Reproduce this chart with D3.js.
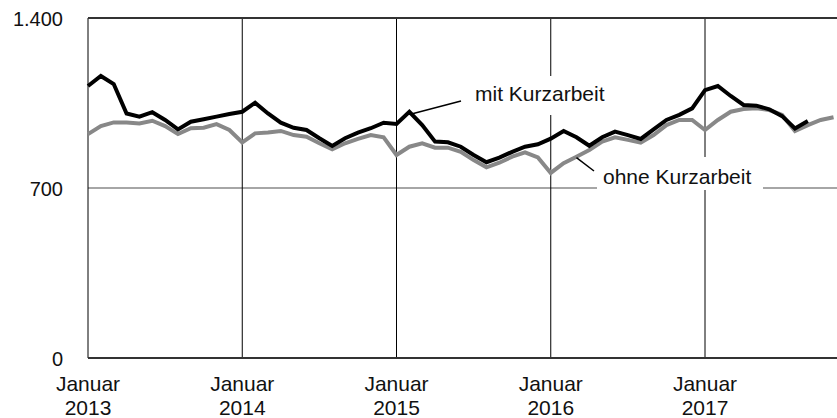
<!DOCTYPE html>
<html>
<head>
<meta charset="utf-8">
<script src="https://cdn.jsdelivr.net/npm/d3@7"></script>
<style>
  html, body { margin: 0; padding: 0; background: #fff; }
  svg { display: block; font-family: "Liberation Sans", Arial, sans-serif; }
</style>
</head>
<body>
<svg id="chart" width="837" height="418"></svg>
<script>
// Monthly values, starting January 2013
const mitKurzarbeit = [
  1120, 1161, 1128, 1007, 994, 1012, 980, 941, 973, 983, 994, 1005,
  1014, 1051, 1007, 969, 948, 939, 905, 873, 905, 928, 946, 969,
  964, 1014, 959, 891, 888, 870, 836, 806, 825, 849, 870, 880,
  903, 935, 909, 874, 909, 932, 918, 902, 941, 980, 1001, 1028,
  1103, 1120, 1079, 1042, 1039, 1024, 996, 945, 976
];
const ohneKurzarbeit = [
  922, 955, 970, 970, 966, 977, 955, 922, 946, 948, 963, 939,
  888, 925, 929, 935, 918, 911, 884, 859, 884, 902, 918, 909,
  836, 870, 884, 866, 866, 849, 815, 785, 804, 829, 847, 826,
  762, 802, 829, 856, 891, 909, 898, 887, 918, 959, 980, 980,
  939, 980, 1014, 1025, 1028, 1021, 1001, 935, 959, 980, 991
];
const yearTicks = [2013, 2014, 2015, 2016, 2017];
const yTicks = [0, 700, 1400];
const monthLabel = "Januar";

(function draw() {
  const svg = d3.select("#chart");
  const W = 837;
  const plotLeft = 88, plotTop = 18, plotBottom = 358;

  // month index -> x, 12 months per year
  const x = d3.scaleLinear().domain([0, 48]).range([88, 705]);
  const y = d3.scaleLinear().domain([0, 1400]).range([plotBottom, plotTop]);

  const de = d3.formatLocale({ decimal: ",", thousands: ".", grouping: [3], currency: ["", " €"] });
  const fmt = de.format(",d");

  // horizontal reference line at 700
  svg.append("line")
    .attr("x1", plotLeft).attr("x2", W)
    .attr("y1", y(700)).attr("y2", y(700))
    .attr("stroke", "#888").attr("stroke-width", 1.6);

  // yearly vertical grid lines
  svg.append("g").selectAll("line")
    .data(yearTicks.slice(1))
    .join("line")
    .attr("x1", d => x((d - 2013) * 12)).attr("x2", d => x((d - 2013) * 12))
    .attr("y1", plotTop).attr("y2", plotBottom)
    .attr("stroke", "#000").attr("stroke-width", 1);

  // frame: left, top, bottom
  svg.append("line").attr("x1", plotLeft).attr("x2", plotLeft).attr("y1", plotTop).attr("y2", plotBottom)
    .attr("stroke", "#000").attr("stroke-width", 1);
  svg.append("line").attr("x1", plotLeft).attr("x2", W).attr("y1", plotTop).attr("y2", plotTop)
    .attr("stroke", "#333").attr("stroke-width", 1.8);
  svg.append("line").attr("x1", plotLeft).attr("x2", W).attr("y1", plotBottom).attr("y2", plotBottom)
    .attr("stroke", "#333").attr("stroke-width", 1.8);

  // y axis labels
  const yAxis = d3.axisLeft(y).tickValues(yTicks).tickFormat(fmt).tickSize(0).tickPadding(0);
  const ga = svg.append("g").attr("transform", "translate(63,0)").call(yAxis);
  ga.select(".domain").remove();
  ga.selectAll("text")
    .attr("font-size", 20).attr("font-family", "Liberation Sans, Arial, sans-serif")
    .attr("fill", "#111").attr("dy", 7).attr("x", 0);

  // x axis labels (two lines)
  const xl = svg.append("g").selectAll("text")
    .data(yearTicks)
    .join("text")
    .attr("text-anchor", "middle")
    .attr("font-size", 21)
    .attr("fill", "#111");
  xl.append("tspan").attr("x", d => x((d - 2013) * 12)).attr("y", 391).text(monthLabel);
  xl.append("tspan").attr("x", d => x((d - 2013) * 12)).attr("y", 415).text(d => d);

  // label backgrounds
  svg.append("rect").attr("x", 468).attr("y", 76).attr("width", 146).attr("height", 39).attr("fill", "#fff");
  svg.append("rect").attr("x", 597).attr("y", 157).attr("width", 166).attr("height", 33).attr("fill", "#fff");

  // series lines
  const line = d3.line().x((d, i) => x(i)).y(d => y(d));
  svg.append("path").datum(ohneKurzarbeit).attr("d", line)
    .attr("fill", "none").attr("stroke", "#888").attr("stroke-width", 4);
  svg.append("path").datum(mitKurzarbeit).attr("d", line)
    .attr("fill", "none").attr("stroke", "#000").attr("stroke-width", 4);

  // series labels with leader lines
  svg.append("text").attr("x", 475).attr("y", 101).attr("font-size", 21).attr("fill", "#111").text("mit Kurzarbeit");
  svg.append("line").attr("x1", 461).attr("y1", 101).attr("x2", x(25) + 3).attr("y2", y(mitKurzarbeit[25]) + 2)
    .attr("stroke", "#000").attr("stroke-width", 1.5);
  svg.append("text").attr("x", 603).attr("y", 184).attr("font-size", 21).attr("fill", "#111").text("ohne Kurzarbeit");
  svg.append("line").attr("x1", 594).attr("y1", 171).attr("x2", x(38)).attr("y2", y(ohneKurzarbeit[38]) + 1)
    .attr("stroke", "#000").attr("stroke-width", 1.5);
})();
</script>
</body>
</html>
